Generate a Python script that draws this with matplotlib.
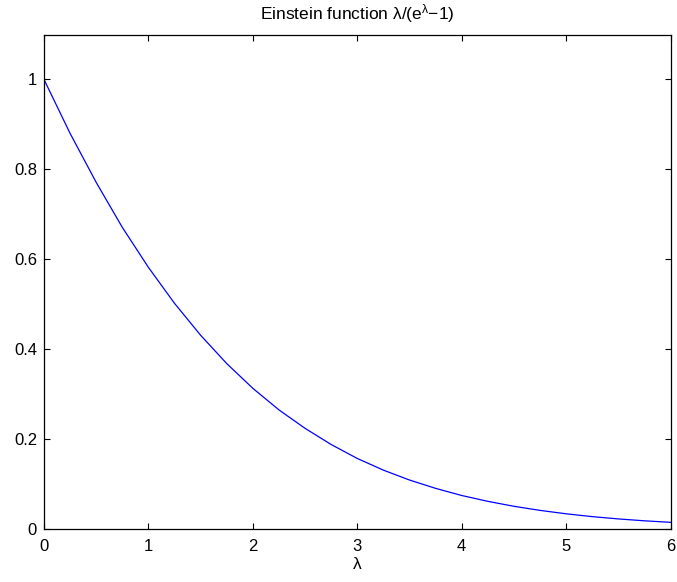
import matplotlib
matplotlib.use('Agg')
import matplotlib.pyplot as plt

plt.rcParams['font.family'] = ['Liberation Sans', 'DejaVu Sans']
plt.rcParams['mathtext.default'] = 'regular'

# values
lam = [0.0, 0.25, 0.5, 0.75, 1.0, 1.25, 1.5, 1.75, 2.0, 2.25, 2.5, 2.75, 3.0,
       3.25, 3.5, 3.75, 4.0, 4.25, 4.5, 4.75, 5.0, 5.25, 5.5, 5.75, 6.0]
einstein = [1.0, 0.880, 0.771, 0.671, 0.582, 0.502, 0.431, 0.368, 0.313,
            0.265, 0.224, 0.188, 0.157, 0.131, 0.109, 0.0905, 0.0746, 0.0616,
            0.0506, 0.0415, 0.0339, 0.0276, 0.0225, 0.0183, 0.0149]
xticks = [0, 1, 2, 3, 4, 5, 6]
yticks = [0, 0.2, 0.4, 0.6, 0.8, 1]
ytick_labels = ['0', '0.2', '0.4', '0.6', '0.8', '1']

fig = plt.figure(figsize=(6.77, 5.82), dpi=100)
ax = fig.add_axes([0.065, 0.091, 0.9255, 0.8497])

ax.plot(lam, einstein, color='blue', lw=0.9)

ax.set_xlim(0, 6)
ax.set_ylim(0, 1.1)
ax.set_xticks(xticks)
ax.set_yticks(yticks)
ax.set_yticklabels(ytick_labels)
ax.tick_params(direction='in', top=True, right=True, length=4, width=0.8,
               labelsize=12)
ax.tick_params(axis='x', pad=7)
ax.tick_params(axis='y', pad=5)
for s in ax.spines.values():
    s.set_linewidth(0.9)

ax.set_title('Einstein function λ/(e$^{λ}$\u22121)', fontsize=12.5, pad=11)
ax.set_xlabel('λ', fontsize=12.5, labelpad=2)

fig.savefig('out.png', dpi=100)
